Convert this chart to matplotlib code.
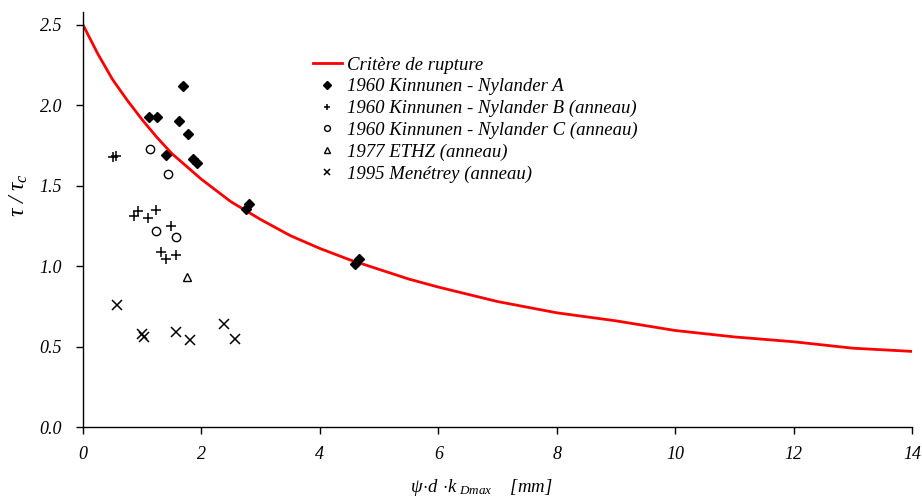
import matplotlib
matplotlib.use("Agg")
import matplotlib.pyplot as plt

plt.rcParams['font.family'] = ['Liberation Serif', 'DejaVu Serif']
plt.rcParams['font.style'] = 'italic'
plt.rcParams['mathtext.fontset'] = 'custom'
plt.rcParams['mathtext.it'] = 'Liberation Serif:italic'
plt.rcParams['mathtext.rm'] = 'Liberation Serif:italic'

# Failure criterion curve
crit_x = [0, 0.25, 0.5, 0.75, 1.0, 1.25, 1.5, 1.75, 2.0, 2.5, 3.0, 3.5, 4.0, 4.5,
          5, 5.5, 6, 7, 8, 9, 10, 11, 12, 13, 14]
crit_y = [2.50, 2.32, 2.16, 2.03, 1.91, 1.80, 1.70, 1.62, 1.54, 1.40, 1.29, 1.19,
          1.11, 1.04, 0.98, 0.92, 0.87, 0.78, 0.71, 0.66, 0.60, 0.56, 0.53, 0.49, 0.47]

# 1960 Kinnunen - Nylander A
a_x = [1.69, 1.11, 1.25, 1.62, 1.78, 1.40, 1.85, 1.93, 2.76, 2.81, 4.60, 4.66]
a_y = [2.12, 1.93, 1.93, 1.905, 1.82, 1.69, 1.665, 1.64, 1.354, 1.385, 1.014, 1.043]

# 1960 Kinnunen - Nylander B (anneau)
b_x = [0.51, 0.565, 0.856, 0.923, 1.096, 1.236, 1.48, 1.31, 1.41, 1.57]
b_y = [1.677, 1.685, 1.312, 1.345, 1.30, 1.347, 1.25, 1.086, 1.047, 1.072]

# 1960 Kinnunen - Nylander C (anneau)
c_x = [1.124, 1.443, 1.225, 1.572]
c_y = [1.729, 1.573, 1.221, 1.184]

# 1977 ETHZ (anneau)
e_x = [1.756]
e_y = [0.935]

# 1995 Menétrey (anneau)
m_x = [0.576, 1.00, 1.035, 1.57, 1.80, 2.377, 2.57]
m_y = [0.761, 0.578, 0.558, 0.589, 0.541, 0.640, 0.545]

labels = ["Critère de rupture",
          "1960 Kinnunen - Nylander A",
          "1960 Kinnunen - Nylander B (anneau)",
          "1960 Kinnunen - Nylander C (anneau)",
          "1977 ETHZ (anneau)",
          "1995 Menétrey (anneau)"]

xticks = [0, 2, 4, 6, 8, 10, 12, 14]
yticks = [0.0, 0.5, 1.0, 1.5, 2.0, 2.5]

fig = plt.figure(figsize=(9.22, 5.01), dpi=100)
ax = fig.add_axes([83/922, 74/501, 829/922, 415/501])

ax.plot(crit_x, crit_y, color='#ff0000', lw=2.0, label=labels[0], zorder=2)
ax.plot(a_x, a_y, ls='none', marker='D', ms=5.5, color='black', label=labels[1], zorder=3)
ax.plot(b_x, b_y, ls='none', marker='+', ms=6.5, mew=1.1, color='black', label=labels[2], zorder=3)
ax.plot(c_x, c_y, ls='none', marker='o', ms=6, mfc='none', mec='black', mew=1.0, label=labels[3], zorder=3)
ax.plot(e_x, e_y, ls='none', marker='^', ms=6, mfc='none', mec='black', mew=1.0, label=labels[4], zorder=3)
ax.plot(m_x, m_y, ls='none', marker='x', ms=6.5, mew=1.1, color='black', label=labels[5], zorder=3)

ax.set_xlim(0, 14)
ax.set_ylim(0, 2.58)
ax.set_xticks(xticks)
ax.set_xticklabels([str(v) for v in xticks])
ax.set_yticks(yticks)
ax.set_yticklabels([f"{v:.1f}" for v in yticks])
for s in ['top', 'right']:
    ax.spines[s].set_visible(False)
ax.spines['left'].set_linewidth(1.0)
ax.spines['bottom'].set_linewidth(1.0)
ax.tick_params(axis='both', direction='out', length=5, width=1.0, labelsize=13)
ax.tick_params(axis='x', pad=9)
ax.tick_params(axis='y', pad=10)
for t in ax.get_xticklabels() + ax.get_yticklabels():
    t.set_fontstyle('italic')

ax.set_xlabel(r"$\psi\!\cdot\! d\ \!\cdot\! k_{\ Dmax}$    [mm]", fontsize=13.5)
ax.xaxis.set_label_coords(0.48, -0.12)
ax.set_ylabel(r"$\tau\ /\ \tau_c$", fontsize=17)
ax.yaxis.set_label_coords(-0.064, 0.56)

leg = ax.legend(loc='upper left', bbox_to_anchor=(0.266, 0.915), frameon=False,
                fontsize=13.5, handlelength=1.55, handletextpad=0.25, labelspacing=0.24,
                markerscale=0.7, borderpad=0)

fig.savefig("out.png", dpi=100)
